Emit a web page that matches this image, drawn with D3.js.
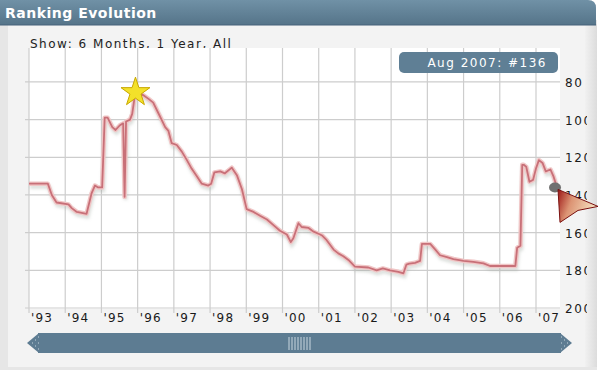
<!DOCTYPE html>
<html><head><meta charset="utf-8">
<script src="https://cdn.jsdelivr.net/npm/d3@7/dist/d3.min.js"></script>
<style>html,body{margin:0;padding:0;background:#fff;overflow:hidden}</style>
</head><body>
<script>
// ---- data ----
const years = [1993.00,1993.52,1993.63,1993.76,1994.09,1994.18,1994.32,1994.59,1994.73,1994.82,1994.91,1995.02,
  1995.09,1995.17,1995.30,1995.39,1995.51,1995.60,1995.64,1995.68,1995.79,1995.85,1995.94,1996.15,1996.30,1996.43,
  1996.57,1996.66,1996.76,1996.85,1996.94,1997.08,1997.22,1997.36,1997.49,1997.63,1997.77,1997.95,1998.03,1998.12,
  1998.28,1998.41,1998.60,1998.74,1998.88,1999.01,1999.20,1999.38,1999.57,1999.75,1999.93,2000.12,2000.23,2000.30,
  2000.44,2000.53,2000.72,2000.86,2001.04,2001.09,2001.22,2001.41,2001.54,2001.68,2001.82,2002.00,2002.37,2002.60,
  2002.77,2002.97,2003.20,2003.34,2003.42,2003.50,2003.66,2003.80,2003.85,2004.08,2004.22,2004.35,2004.54,2004.72,
  2005.00,2005.27,2005.55,2005.73,2006.43,2006.48,2006.57,2006.62,2006.66,2006.73,2006.82,2006.92,2007.00,2007.08,
  2007.18,2007.27,2007.40,2007.48,2007.58];
const ranks = [134,134,140,144,145,147,149,150,139,135,136,136,
  99,99,104,105.5,103,102,141,101,100,97,85,87,89,91,
  96.5,100,104,106,112.5,113.5,117,121.5,126,130,134,135,134,128,
  127.5,128.5,125.5,129.5,137,147.5,149,151,153,156,159,161,165,163,
  155,157,157.5,159.5,161,161.5,164,169,171,172.5,174.5,178,178.5,180,
  179,180,180.8,181.6,177,176.5,176,175,166,166,169,172,173,174,
  175,175.5,176.3,177.7,177.7,168,167,124,124,125,133,132,126,121.5,
  123,127.5,126.5,130,136];
const yearTicks = [1993,1994,1995,1996,1997,1998,1999,2000,2001,2002,2003,2004,2005,2006,2007];
const yearLabels = ["'93","'94","'95","'96","'97","'98","'99","'00","'01","'02","'03","'04","'05","'06","'07"];
const rankTicks = [80,100,120,140,160,180,200];
const peak = {year:1995.94, rank:85};
const current = {year:2007.58, rank:136, label:"Aug 2007: #136"};
const titleText = "Ranking Evolution";
const showText = "Show: 6 Months, 1 Year, All";

// ---- scales ----
const x = d3.scaleLinear().domain([1993,2007]).range([29,536]);
const y = d3.scaleLinear().domain([62,200]).range([48,308]);
const plotL = 29, plotR = 560, plotT = 48, plotB = 309;

const svg = d3.select("body").append("svg").attr("width",600).attr("height",372);
const defs = svg.append("defs");
const tg = defs.append("linearGradient").attr("id","tbar").attr("x1",0).attr("y1",0).attr("x2",0).attr("y2",1);
tg.append("stop").attr("offset","0%").attr("stop-color","#7091a6");
tg.append("stop").attr("offset","100%").attr("stop-color","#557489");
const pg = defs.append("linearGradient").attr("id","ptr").attr("x1",0).attr("y1",0).attr("x2",1).attr("y2",0.3);
pg.append("stop").attr("offset","0%").attr("stop-color","#9c1414");
pg.append("stop").attr("offset","40%").attr("stop-color","#dc9474");
pg.append("stop").attr("offset","100%").attr("stop-color","#f6e2c2");
const rg = defs.append("linearGradient").attr("id","rstrip").attr("x1",0).attr("y1",0).attr("x2",1).attr("y2",0);
rg.append("stop").attr("offset","0%").attr("stop-color","#f1f1f1");
rg.append("stop").attr("offset","100%").attr("stop-color","#dcdcdc");
defs.append("filter").attr("id","blur").append("feGaussianBlur").attr("stdDeviation",1.6);
defs.append("clipPath").attr("id","ylab").append("rect").attr("x",0).attr("y",0).attr("width",587).attr("height",372);

// ---- frame ----
svg.append("rect").attr("x",0).attr("y",20).attr("width",597).attr("height",350).attr("fill","#e6e6e6");
svg.append("rect").attr("x",8).attr("y",24).attr("width",577).attr("height",343).attr("fill","#f3f3f3");
svg.append("rect").attr("x",585).attr("y",24).attr("width",12).attr("height",343).attr("fill","url(#rstrip)");
svg.append("path").attr("d","M0,0 H588 Q596,0 596,8 V25 H0 Z").attr("fill","url(#tbar)");
svg.append("line").attr("x1",0).attr("x2",596).attr("y1",25).attr("y2",25).attr("stroke","#46637a");
svg.append("text").attr("x",5).attr("y",18).text(titleText)
  .attr("font-family","DejaVu Sans").attr("font-weight","bold").attr("font-size",14).attr("letter-spacing",0.5).attr("fill","#fff");
svg.append("text").attr("x",30).attr("y",48).text(showText)
  .attr("font-family","DejaVu Sans").attr("font-size",12).attr("letter-spacing",1.5).attr("fill","#222");

// ---- plot ----
svg.append("rect").attr("x",plotL).attr("y",plotT).attr("width",plotR-plotL).attr("height",plotB-plotT).attr("fill","#fff");
svg.append("g").selectAll("line").data(yearTicks).join("line")
  .attr("x1",d=>x(d)).attr("x2",d=>x(d)).attr("y1",plotT).attr("y2",plotB+4)
  .attr("stroke","#cdcdcd").attr("stroke-width",1.2);
svg.append("g").selectAll("line").data(rankTicks).join("line")
  .attr("x1",25).attr("x2",plotR).attr("y1",d=>y(d)).attr("y2",d=>y(d))
  .attr("stroke","#cdcdcd").attr("stroke-width",1.2);

svg.append("g").selectAll("text").data(yearTicks).join("text")
  .attr("x",d=>x(d)+2).attr("y",322).text((d,i)=>yearLabels[i])
  .attr("font-family","DejaVu Sans").attr("font-size",12).attr("letter-spacing",1.2).attr("fill","#1a1a1a");
svg.append("g").attr("clip-path","url(#ylab)").selectAll("text").data(rankTicks).join("text")
  .attr("x",565).attr("y",d=>y(d)+5).text(d=>d)
  .attr("font-family","DejaVu Sans").attr("font-size",12).attr("letter-spacing",1.6).attr("fill","#1a1a1a");

// ---- line ----
const pts = years.map((v,i)=>[v,ranks[i]]);
const line = d3.line().x(d=>x(d[0])).y(d=>y(d[1]));
svg.append("path").datum(pts).attr("d",line).attr("fill","none").attr("stroke","#9aa39a").attr("stroke-opacity",0.35)
  .attr("stroke-width",4).attr("transform","translate(1,3)").attr("filter","url(#blur)");
svg.append("path").datum(pts).attr("d",line).attr("fill","none").attr("stroke","#f0c6c6").attr("stroke-width",4.5).attr("stroke-linejoin","round");
svg.append("path").datum(pts).attr("d",line).attr("fill","none").attr("stroke","#c87078").attr("stroke-width",1.8).attr("stroke-linejoin","round");

// ---- star ----
const star = d3.symbol().type(d3.symbolStar).size(260);
svg.append("path").attr("d",star()).attr("transform",`translate(${x(peak.year)},${y(peak.rank)+1})`)
  .attr("fill","#f3e12a").attr("stroke","#c9a800").attr("stroke-width",1);

// ---- tooltip ----
svg.append("rect").attr("x",399).attr("y",52).attr("width",159).attr("height",21).attr("rx",5).attr("fill","#5f7f95");
svg.append("text").attr("x",547).attr("y",67).attr("text-anchor","end").text(current.label)
  .attr("font-family","DejaVu Sans").attr("font-size",12).attr("letter-spacing",1.5).attr("fill","#fff");

// ---- current dot & pointer ----
svg.append("ellipse").attr("cx",x(current.year)-2).attr("cy",y(current.rank)).attr("rx",6).attr("ry",5).attr("fill","#707070");
const px = x(current.year)+1, py = y(current.rank)+2;
svg.append("path").attr("d",`M${px},${py} L${px+40},${py+17} L${px+20},${py+21} L${px+2},${py+33} Z`)
  .attr("fill","url(#ptr)").attr("stroke","#7a1010").attr("stroke-width",1);

// ---- scrollbar ----
const sb = svg.append("g");
sb.append("rect").attr("x",38).attr("y",333).attr("width",523).attr("height",20).attr("fill","#5d7c92");
sb.append("path").attr("d","M27,343 L39,333 L39,353 Z").attr("fill","#5d7c92");
sb.append("path").attr("d","M572,343 L560,333 L560,353 Z").attr("fill","#5d7c92");
[[32,343],[35,340],[35,346],[38,337],[38,349],[38,343]].forEach(p=>sb.append("rect").attr("x",p[0]).attr("y",p[1]-0.5).attr("width",1).attr("height",1).attr("fill","#c5d3dd"));
[[567,343],[564,340],[564,346],[561,337],[561,349],[561,343]].forEach(p=>sb.append("rect").attr("x",p[0]).attr("y",p[1]-0.5).attr("width",1).attr("height",1).attr("fill","#c5d3dd"));
d3.range(8).forEach(i=>sb.append("line").attr("x1",289+i*3).attr("x2",289+i*3).attr("y1",337).attr("y2",350).attr("stroke","#c9d6df").attr("stroke-width",1));
</script>
</body></html>
